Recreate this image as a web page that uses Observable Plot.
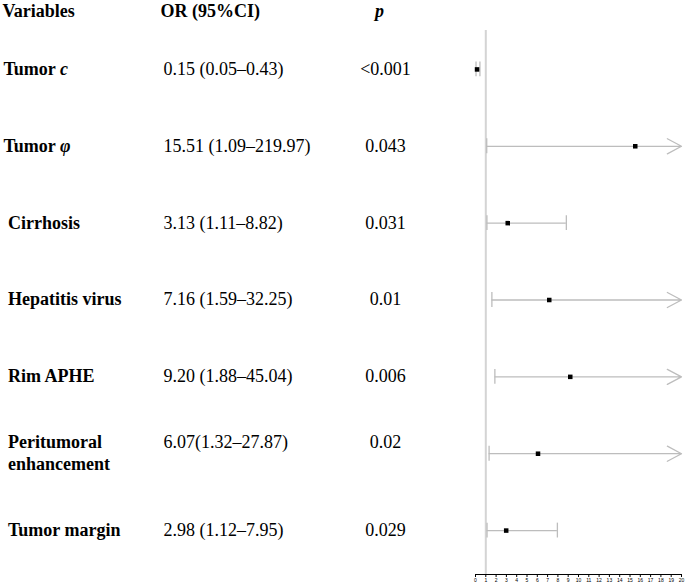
<!DOCTYPE html>
<html><head><meta charset="utf-8">
<script src="https://cdn.jsdelivr.net/npm/d3@7"></script>
<script src="https://cdn.jsdelivr.net/npm/@observablehq/plot@0.6"></script>
<style>body{margin:0;background:#fff} svg{display:block}</style>
</head><body><div id="chart"></div>
<script>
const headers = ["Variables", "OR (95%CI)", "p"];
const variables = ["Tumor c", "Tumor φ", "\u00a0Cirrhosis", "\u00a0Hepatitis virus", "\u00a0Rim APHE", "\u00a0Peritumoral\n\u00a0enhancement", "\u00a0Tumor margin"];
const oddsRatio = [0.15, 15.51, 3.13, 7.16, 9.20, 6.07, 2.98];
const lower = [0.05, 1.09, 1.11, 1.59, 1.88, 1.32, 1.12];
const upper = [0.43, 219.97, 8.82, 32.25, 45.04, 27.87, 7.95];
const orText = ["0.15 (0.05–0.43)", "15.51 (1.09–219.97)", "3.13 (1.11–8.82)", "7.16 (1.59–32.25)", "9.20 (1.88–45.04)", "6.07(1.32–27.87)", "2.98 (1.12–7.95)"];
const pText = ["<0.001", "0.043", "0.031", "0.01", "0.006", "0.02", "0.029"];
const xTicks = [0,1,2,3,4,5,6,7,8,9,10,11,12,13,14,15,16,17,18,19,20];
const xMax = 20;
const refLine = 1;

const rows = variables.map((v, i) => {
  const extra = "\n".repeat(v.split("\n").length - 1);
  return {variable: v, or: oddsRatio[i], lower: lower[i], upper: upper[i],
    orText: orText[i] + extra, pText: pText[i] + extra, hi: Math.min(upper[i], xMax)};
});
const capped = rows.filter(d => d.upper <= xMax);
const open = rows.filter(d => d.upper > xMax);

const font = "'Liberation Serif', 'Times New Roman', serif";
const W = 685, H = 583, ML = 475;

const chart = Plot.plot({
  width: W, height: H,
  marginLeft: ML, marginRight: 4, marginTop: 30, marginBottom: 9,
  style: {fontFamily: font, background: "#fff", color: "#000"},
  x: {domain: [0, xMax], axis: null},
  y: {type: "band", domain: variables, range: [30.5, 568.5], padding: 0, round: false, axis: null},
  marks: [
    Plot.ruleX([refLine], {stroke: "#d4d4d4", strokeWidth: 2}),
    Plot.frame({anchor: "bottom", stroke: "#000", strokeWidth: 1}),
    Plot.axisX({ticks: xTicks, tickSize: 3, tickPadding: 1, fontSize: 5, tickFormat: d => String(d), fontFamily: "Liberation Sans, Arial, sans-serif"}),
    Plot.ruleY(capped, {y: "variable", x1: "lower", x2: "upper", stroke: "#bdbdbd", strokeWidth: 1.3}),
    Plot.arrow(open, {y1: "variable", y2: "variable", x1: "lower", x2: "hi", stroke: "#bdbdbd", strokeWidth: 1.3, headLength: 18.5, headAngle: 56}),
    Plot.tickX(rows, {y: "variable", x: "lower", stroke: "#bdbdbd", strokeWidth: 1.3, insetTop: 31, insetBottom: 31}),
    Plot.tickX(capped, {y: "variable", x: "upper", stroke: "#bdbdbd", strokeWidth: 1.3, insetTop: 31, insetBottom: 31}),
    Plot.dot(rows, {y: "variable", x: "or", symbol: "square", r: 2.55, fill: "#000", stroke: null}),
    // table columns
    Plot.text(rows, {y: "variable", text: "variable", frameAnchor: "left", dx: 3 - ML, dy: -1.5, textAnchor: "start", fontSize: 18, fontWeight: "bold", lineHeight: 1.2, fill: "#000"}),
    Plot.text(rows, {y: "variable", text: "orText", frameAnchor: "left", dx: 163 - ML, dy: -1.5, textAnchor: "start", fontSize: 18, lineHeight: 1.2, fill: "#000"}),
    Plot.text(rows, {y: "variable", text: "pText", frameAnchor: "left", dx: 385 - ML, dy: -1.5, textAnchor: "middle", fontSize: 18, lineHeight: 1.2, fill: "#000"}),
    // headers
    Plot.text([headers[0]], {text: d => d, frameAnchor: "top-left", dx: 2 - ML, dy: -19, lineAnchor: "middle", textAnchor: "start", fontSize: 18, fontWeight: "bold", fill: "#000"}),
    Plot.text([headers[1]], {text: d => d, frameAnchor: "top-left", dx: 160 - ML, dy: -19, lineAnchor: "middle", textAnchor: "start", fontSize: 18, fontWeight: "bold", fill: "#000"}),
    Plot.text([headers[2]], {text: d => d, frameAnchor: "top-left", dx: 379 - ML, dy: -19, lineAnchor: "middle", textAnchor: "middle", fontSize: 18, fontWeight: "bold", fontStyle: "italic", fill: "#000"})
  ]
});

// italicise the Greek/Latin symbol in the tumour labels
d3.select(chart).selectAll("text").each(function() {
  const t = this.textContent;
  if (this.childElementCount === 0 && /^Tumor [cφ]$/.test(t)) {
    const sym = t.slice(6);
    const sel = d3.select(this);
    sel.text("Tumor ");
    sel.append("tspan").attr("font-style", "italic").text(sym);
  }
});

document.getElementById("chart").appendChild(chart);
</script>
</body></html>
